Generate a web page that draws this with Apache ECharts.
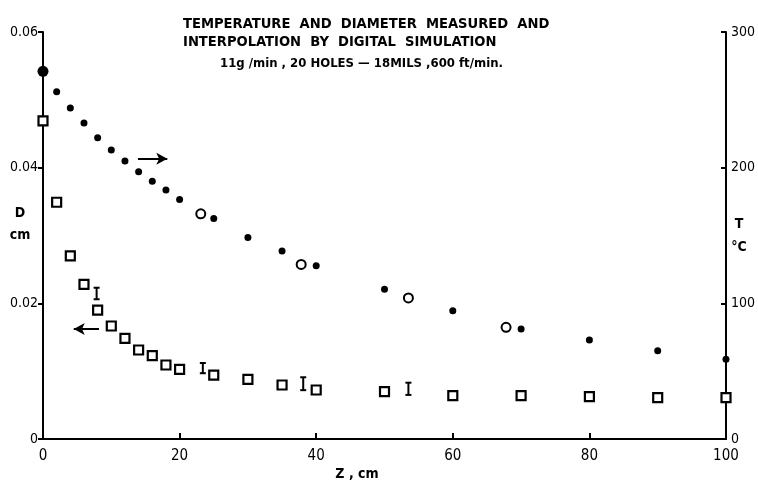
<!DOCTYPE html>
<html>
<head>
<meta charset="utf-8">
<script src="https://cdn.jsdelivr.net/npm/echarts@6/dist/echarts.min.js"></script>
<style>
  html, body { margin: 0; padding: 0; background: #fff; }
  #main { width: 758px; height: 485px; }
</style>
</head>
<body>
<div id="main"></div>
<script>
// temperature, digital simulation (filled dots)
var simZ = [0, 2, 4, 6, 8, 10, 12, 14, 16, 18, 20, 25, 30, 35, 40, 50, 60, 70, 80, 90, 100];
var simT = [271, 256, 244, 233, 222, 213, 205, 197, 190, 183.5, 176.6, 162.6, 148.6, 138.6, 127.7, 110.3, 94.6, 81, 73, 65, 58.7];
// temperature, measured (open circles)
var measZ = [23.1, 37.8, 53.5, 67.8];
var measT = [166, 128.7, 104, 82.3];
// diameter (open squares)
var diaZ = [0, 2, 4, 6, 8, 10, 12, 14, 16, 18, 20, 25, 30, 35, 40, 50, 60, 70, 80, 90, 100];
var diaD = [0.0469, 0.0349, 0.0270, 0.0228, 0.0190, 0.01666, 0.01484, 0.01312, 0.01228, 0.01091, 0.01027,
            0.00943, 0.0088, 0.00796, 0.00722, 0.00697, 0.00638, 0.00638, 0.00624, 0.00609, 0.00609];
// measured diameter ranges (I bars)
var errZ = [7.85, 23.4, 38.1, 53.5];
var errLow = [0.0206, 0.0097, 0.0072, 0.0065];
var errHigh = [0.0223, 0.0112, 0.0091, 0.0083];
// arrows telling which axis belongs to which curve
var arrowTZ = [13.9, 18.2], arrowTY = 206.5;
var arrowDZ = [8.2, 4.5], arrowDY = 0.0162;

var zTicks = [0, 20, 40, 60, 80, 100];
var dTicks = [0, 0.02, 0.04, 0.06];
var tTicks = [0, 100, 200, 300];

function pairs(xs, ys) {
  return xs.map(function (x, i) { return [x, ys[i]]; });
}

var FONT = '"DejaVu Sans Condensed", "DejaVu Sans", sans-serif';
var INK = '#000';
var chart = echarts.init(document.getElementById('main'));

var option = {
  backgroundColor: '#fff',
  animation: false,
  textStyle: { fontFamily: FONT, color: INK },
  title: [
    {
      text: 'TEMPERATURE  AND  DIAMETER  MEASURED  AND\nINTERPOLATION  BY  DIGITAL  SIMULATION',
      left: 178, top: 10,
      textStyle: { fontFamily: FONT, fontSize: 14.6, fontWeight: 'bold', color: INK, lineHeight: 18 }
    },
    {
      text: '11g /min , 20 HOLES \u2014 18MILS ,600 ft/min.',
      left: 215, top: 52,
      textStyle: { fontFamily: FONT, fontSize: 13, fontWeight: 'bold', color: INK }
    }
  ],
  grid: { left: 43, right: 32, top: 32, bottom: 46, containLabel: false, outerBoundsMode: 'none' },
  xAxis: {
    type: 'value', min: zTicks[0], max: zTicks[zTicks.length - 1], interval: 20,
    name: 'Z , cm', nameLocation: 'middle', nameGap: 28, nameMoveOverlap: false,
    nameTextStyle: { fontFamily: FONT, fontSize: 14, fontWeight: 'bold', color: INK, padding: [0, 55, 0, 0] },
    axisLine: { lineStyle: { color: INK, width: 2 } },
    axisTick: { inside: true, length: 6, lineStyle: { color: INK, width: 2 } },
    axisLabel: { margin: 10, fontSize: 15, color: INK, fontFamily: FONT },
    splitLine: { show: false }
  },
  yAxis: [
    {
      type: 'value', min: dTicks[0], max: dTicks[dTicks.length - 1], interval: 0.02,
      name: 'D\ncm\n', nameLocation: 'middle', nameGap: 23, nameRotate: 0, nameMoveOverlap: false,
      nameTextStyle: { fontFamily: FONT, fontSize: 14, fontWeight: 'bold', color: INK, align: 'center', lineHeight: 22 },
      axisLine: { show: true, lineStyle: { color: INK, width: 2 } },
      axisTick: { show: true, length: 5, lineStyle: { color: INK, width: 2 } },
      axisLabel: { margin: 5, fontSize: 14, color: INK, fontFamily: FONT },
      splitLine: { show: false }
    },
    {
      type: 'value', position: 'right', min: tTicks[0], max: tTicks[tTicks.length - 1], interval: 100,
      name: 'T\n\u00b0C', nameLocation: 'middle', nameGap: 13, nameRotate: 0, nameMoveOverlap: false,
      nameTextStyle: { fontFamily: FONT, fontSize: 14, fontWeight: 'bold', color: INK, align: 'center', lineHeight: 23 },
      axisLine: { show: true, lineStyle: { color: INK, width: 2 } },
      axisTick: { show: true, inside: true, length: 5, lineStyle: { color: INK, width: 2 } },
      axisLabel: { margin: 5, fontSize: 14, color: INK, fontFamily: FONT },
      splitLine: { show: false }
    }
  ],
  series: [
    {
      name: 'T simulation', type: 'scatter', yAxisIndex: 1, clip: false,
      data: pairs(simZ, simT),
      symbol: 'circle',
      symbolSize: function (v, p) { return p.dataIndex === 0 ? 11 : 7; },
      itemStyle: { color: INK, opacity: 1 },
      markLine: {
        silent: true, symbol: ['none', 'arrow'], symbolSize: [9, 11],
        label: { show: false },
        lineStyle: { color: INK, width: 2, type: 'solid' },
        data: [[{ coord: [arrowTZ[0], arrowTY] }, { coord: [arrowTZ[1], arrowTY] }]]
      }
    },
    {
      name: 'T measured', type: 'scatter', yAxisIndex: 1, clip: false,
      data: pairs(measZ, measT),
      symbol: 'circle', symbolSize: 9,
      itemStyle: { color: '#fff', borderColor: INK, borderWidth: 2, opacity: 1 }
    },
    {
      name: 'D', type: 'scatter', yAxisIndex: 0, clip: false, z: 3,
      data: pairs(diaZ, diaD),
      symbol: 'rect', symbolSize: 9,
      itemStyle: { color: '#fff', borderColor: INK, borderWidth: 2.2, opacity: 1 },
      markLine: {
        silent: true, symbol: ['none', 'arrow'], symbolSize: [9, 11],
        label: { show: false },
        lineStyle: { color: INK, width: 2, type: 'solid' },
        data: [[{ coord: [arrowDZ[0], arrowDY] }, { coord: [arrowDZ[1], arrowDY] }]]
      }
    },
    {
      name: 'D measured', type: 'custom', yAxisIndex: 0, clip: false,
      data: errZ.map(function (z, i) { return [z, errLow[i], errHigh[i]]; }),
      encode: { x: 0, y: [1, 2] },
      renderItem: function (params, api) {
        var lo = api.coord([api.value(0), api.value(1)]);
        var hi = api.coord([api.value(0), api.value(2)]);
        var hw = 3;
        var st = { stroke: INK, lineWidth: 2 };
        return {
          type: 'group',
          children: [
            { type: 'line', shape: { x1: lo[0], y1: lo[1], x2: hi[0], y2: hi[1] }, style: st },
            { type: 'line', shape: { x1: lo[0] - hw, y1: lo[1], x2: lo[0] + hw, y2: lo[1] }, style: st },
            { type: 'line', shape: { x1: hi[0] - hw, y1: hi[1], x2: hi[0] + hw, y2: hi[1] }, style: st }
          ]
        };
      }
    }
  ]
};

chart.setOption(option);
</script>
</body>
</html>
